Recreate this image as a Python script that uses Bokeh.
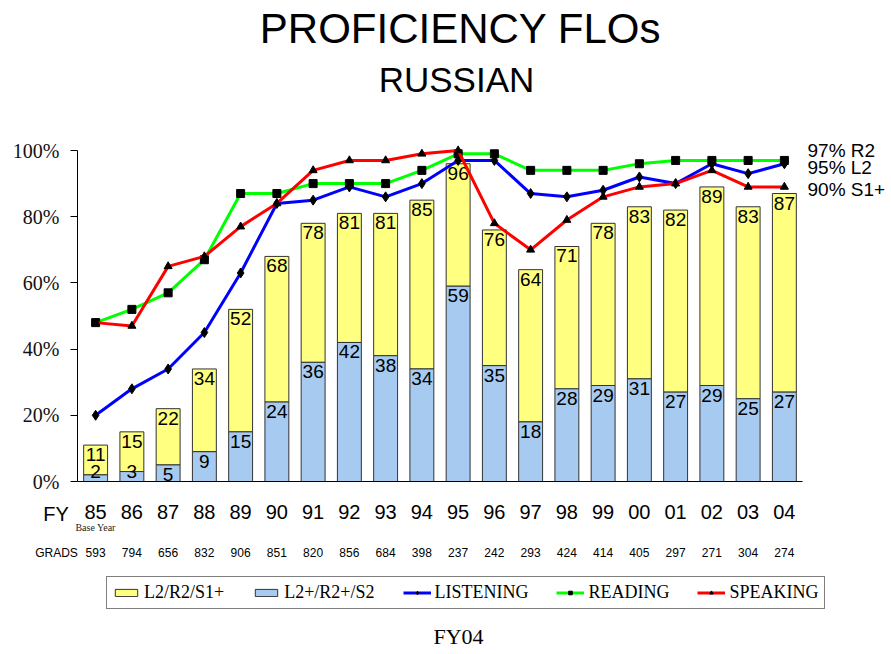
from bokeh.plotting import figure
from bokeh.models import (Range1d, FixedTicker, Label, LabelSet, ColumnDataSource,
                          Legend, LegendItem, LinearAxis)
from bokeh.core.properties import value
from bokeh.embed import file_html
from bokeh.resources import INLINE
import numpy as np

# ---------------- data ----------------
years = ["85", "86", "87", "88", "89", "90", "91", "92", "93", "94",
         "95", "96", "97", "98", "99", "00", "01", "02", "03", "04"]
grads = [593, 794, 656, 832, 906, 851, 820, 856, 684, 398,
         237, 242, 293, 424, 414, 405, 297, 271, 304, 274]
level2_total = [11, 15, 22, 34, 52, 68, 78, 81, 81, 85,
                96, 76, 64, 71, 78, 83, 82, 89, 83, 87]      # L2/R2/S1+
level2_plus = [2, 3, 5, 9, 15, 24, 36, 42, 38, 34,
               59, 35, 18, 28, 29, 31, 27, 29, 25, 27]       # L2+/R2+/S2
listening = [20, 28, 34, 45, 63, 84, 85, 89, 86, 90,
             97, 97, 87, 86, 88, 92, 90, 96, 93, 96]
reading = [48, 52, 57, 67, 87, 87, 90, 90, 90, 94,
           99, 99, 94, 94, 94, 96, 97, 97, 97, 97]
speaking = [48, 47, 65, 68, 77, 84, 94, 97, 97, 99,
            100, 78, 70, 79, 86, 89, 90, 94, 89, 89]
end_labels = ["97% R2", "95% L2", "90% S1+"]
y_ticks = [0, 20, 40, 60, 80, 100]

SANS = "Liberation Sans"
SERIF = "Liberation Serif"

idx = list(range(len(years)))
plus_arr = np.array(level2_plus, dtype=float)
src = ColumnDataSource(dict(
    x=idx,
    total=level2_total,
    plus=level2_plus,
    total_s=[str(v) for v in level2_total],
    plus_s=[str(v) for v in level2_plus],
    plus_lab_y=np.where(plus_arr < 4, 6.0, plus_arr),
    grads_s=[str(v) for v in grads],
))

# canvas geometry: the frame fills the whole canvas, axes are drawn at fixed locations
W, H = 889, 652
X0_PX, SLOT = 77.0, 36.25          # left edge of category area, px per category
Y0_PX, PX_PER = 481.0, 3.31        # baseline pixel row, px per percent
x_start = -0.5 - X0_PX / SLOT
x_end = x_start + W / SLOT
y_start = -(H - Y0_PX) / PX_PER
y_end = Y0_PX / PX_PER

p = figure(width=W, height=H,
           x_range=Range1d(x_start, x_end), y_range=Range1d(y_start, y_end),
           output_backend="svg", toolbar_location=None,
           x_axis_location=None, y_axis_location=None,
           min_border=0, min_border_left=0, min_border_right=0,
           min_border_top=0, min_border_bottom=0)
p.xgrid.grid_line_color = None
p.ygrid.grid_line_color = None
p.outline_line_color = None
p.background_fill_color = "white"

# ---------------- bars ----------------
BAR_W = 0.66
r_yellow = p.vbar(x="x", bottom="plus", top="total", width=BAR_W, source=src,
                  fill_color="#FFFF80", line_color="#333333", line_width=1)
r_blue = p.vbar(x="x", bottom=0, top="plus", width=BAR_W, source=src,
                fill_color="#A6CAF0", line_color="#333333", line_width=1)

p.text(x="x", y="total", text="total_s", source=src, text_align="center",
       text_baseline="top", y_offset=3, text_font=value(SANS),
       text_font_size="19px", text_color="black")
p.text(x="x", y="plus_lab_y", text="plus_s", source=src, text_align="center",
       text_baseline="top", y_offset=3, text_font=value(SANS),
       text_font_size="19px", text_color="black")

# ---------------- lines ----------------
l_lis = p.line(idx, listening, line_color="#0000FF", line_width=3)
m_lis = p.scatter(idx, listening, marker="diamond", size=10, color="black")
l_rea = p.line(idx, reading, line_color="#00FF00", line_width=3)
m_rea = p.scatter(idx, reading, marker="square", size=8, color="black")
l_spe = p.line(idx, speaking, line_color="#FF0000", line_width=3)
m_spe = p.scatter(idx, speaking, marker="triangle", size=8, color="black")

# ---------------- axes ----------------
yaxis = LinearAxis(fixed_location=-0.5, bounds=(0, 100),
                   ticker=FixedTicker(ticks=y_ticks))
yaxis.major_label_overrides = {t: f"{t}%" for t in y_ticks}
yaxis.major_label_text_font = SERIF
yaxis.major_label_text_font_size = "20px"
yaxis.major_label_text_color = "#111111"
yaxis.major_tick_out = 7
yaxis.major_tick_in = 0
yaxis.minor_tick_out = 0
yaxis.minor_tick_in = 0
yaxis.major_label_standoff = 11
yaxis.axis_line_color = "black"
yaxis.major_tick_line_color = "black"
p.add_layout(yaxis, "left")

xaxis = LinearAxis(fixed_location=0, bounds=(-0.5, 19.5),
                   ticker=FixedTicker(ticks=idx))
xaxis.major_label_overrides = {i: years[i] for i in idx}
xaxis.major_tick_line_color = None
xaxis.minor_tick_line_color = None
xaxis.major_tick_out = 0
xaxis.major_tick_in = 0
xaxis.minor_tick_out = 0
xaxis.minor_tick_in = 0
xaxis.major_label_text_font = SANS
xaxis.major_label_text_font_size = "20px"
xaxis.major_label_text_color = "black"
xaxis.major_label_standoff = 23
xaxis.axis_line_color = "black"
p.add_layout(xaxis, "below")


def px_x(px):
    return -0.5 + (px - X0_PX) / SLOT


def px_y(py):
    return (Y0_PX - py) / PX_PER


# ---------------- extra texts ----------------
p.add_layout(Label(x=px_x(55.5), y=px_y(513), text="FY", text_align="center",
                   text_baseline="middle", text_font=SANS,
                   text_font_size="20px", text_color="black"))
p.add_layout(Label(x=0, y=px_y(527), text="Base Year", text_align="center",
                   text_baseline="middle", text_font=SERIF,
                   text_font_size="10px", text_color="#222222"))
p.add_layout(Label(x=px_x(56), y=px_y(552), text="GRADS", text_align="center",
                   text_baseline="middle", text_font=SANS,
                   text_font_size="12px", text_color="black"))
p.add_layout(LabelSet(x="x", y=px_y(552), text="grads_s", source=src,
                      text_align="center", text_baseline="middle",
                      text_font=value(SANS), text_font_size="12px",
                      text_color="black"))

for txt, py in zip(end_labels, [150, 167, 189]):
    p.add_layout(Label(x=px_x(807), y=px_y(py), text=txt, text_align="left",
                       text_baseline="middle", text_font=SANS,
                       text_font_size="19px", text_color="black"))

p.add_layout(Label(x=px_x(460), y=px_y(28), text="PROFICIENCY FLOs", text_align="center",
                   text_baseline="middle", text_font=SANS,
                   text_font_size="42px", text_color="black"))
p.add_layout(Label(x=px_x(456), y=px_y(79), text="RUSSIAN", text_align="center",
                   text_baseline="middle", text_font=SANS,
                   text_font_size="35px", text_color="black"))
p.add_layout(Label(x=px_x(458), y=px_y(636), text="FY04", text_align="center",
                   text_baseline="middle", text_font=SERIF,
                   text_font_size="22px", text_color="black"))

# ---------------- legend ----------------
legend = Legend(items=[
    LegendItem(label="L2/R2/S1+", renderers=[r_yellow]),
    LegendItem(label="L2+/R2+/S2", renderers=[r_blue]),
    LegendItem(label="LISTENING", renderers=[l_lis, m_lis]),
    LegendItem(label="READING", renderers=[l_rea, m_rea]),
    LegendItem(label="SPEAKING", renderers=[l_spe, m_spe]),
], orientation="horizontal", location=(106, H - 609))
legend.label_text_font = SERIF
legend.label_text_font_size = "18px"
legend.label_text_color = "black"
legend.glyph_width = 28
legend.glyph_height = 9
legend.label_height = 14
legend.label_standoff = 4
legend.spacing = 28
legend.padding = 5
legend.margin = 0
legend.border_line_color = "black"
legend.border_line_width = 1
legend.background_fill_color = "white"
legend.background_fill_alpha = 1
p.add_layout(legend)

open("out.html", "w").write(file_html(p, INLINE))
